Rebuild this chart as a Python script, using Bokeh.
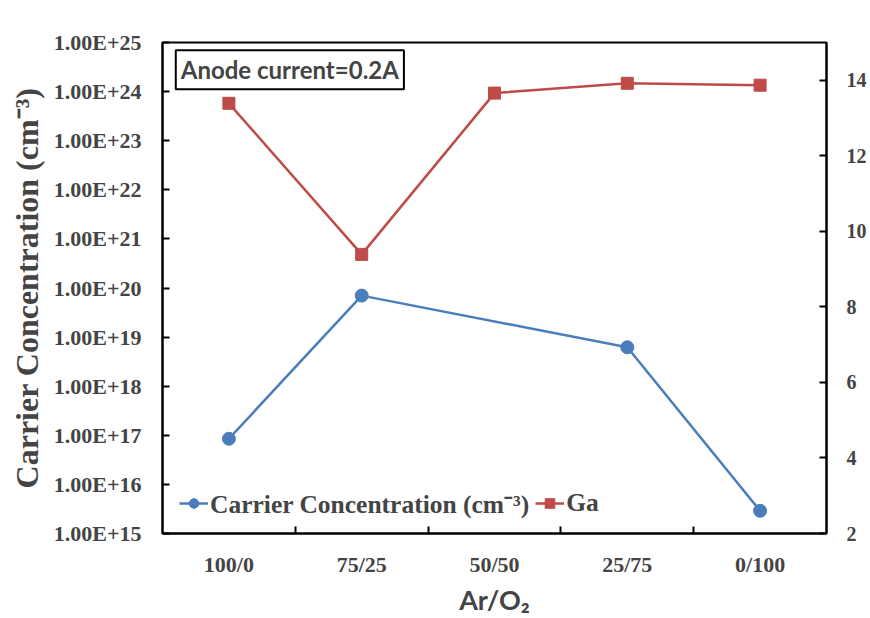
from bokeh.plotting import figure
from bokeh.models import (LinearAxis, LinearScale, Range1d, FixedTicker, CustomJSTickFormatter,
                          Label, Legend, LegendItem)
from bokeh.embed import file_html
from bokeh.resources import INLINE

# Ar/O2 gas ratios on the x axis
ratios = ["100/0", "75/25", "50/50", "25/75", "0/100"]

# Carrier concentration (cm^-3), no value measured at 50/50
carrier_ratios = ["100/0", "75/25", "25/75", "0/100"]
carrier_conc = [8.5e16, 7.0e19, 6.2e18, 2.9e15]

# Ga content (right axis)
ga_ratios = ["100/0", "75/25", "50/50", "25/75", "0/100"]
ga_values = [13.39, 9.39, 13.66, 13.92, 13.87]

left_ticks = [10 ** k for k in range(15, 26)]
right_ticks = [2, 4, 6, 8, 10, 12, 14]

pos = {r: i + 0.5 for i, r in enumerate(ratios)}

SERIF = "Liberation Serif"
SANS = "Lato"
BLUE = "#4A7EBB"
RED = "#BE4B48"

p = figure(width=870, height=618, y_axis_type="log",
           x_range=Range1d(0, len(ratios)), y_range=Range1d(1e15, 1e25),
           output_backend="svg", toolbar_location=None,
           min_border_left=162, min_border_right=44,
           min_border_top=42, min_border_bottom=85)
p.extra_y_ranges = {"ga": Range1d(2, 15)}
p.extra_y_scales = {"ga": LinearScale()}
p.grid.grid_line_color = None
p.outline_line_color = "black"
p.outline_line_width = 2
p.background_fill_color = "white"

# carrier concentration series
cx = [pos[r] for r in carrier_ratios]
bl = p.line(cx, carrier_conc, line_color=BLUE, line_width=2.5)
bp = p.scatter(cx, carrier_conc, marker="circle", size=13, fill_color=BLUE, line_color=BLUE)

# Ga series on the right axis
gx = [pos[r] for r in ga_ratios]
rl = p.line(gx, ga_values, line_color=RED, line_width=2.5, y_range_name="ga")
rp = p.scatter(gx, ga_values, marker="square", size=12, fill_color=RED, line_color=RED,
               y_range_name="ga")

# x axis: labels at category centres, tick marks at category boundaries
xa = p.xaxis[0]
xa.ticker = FixedTicker(ticks=[i + 0.5 for i in range(len(ratios))],
                        minor_ticks=list(range(1, len(ratios))))
xa.formatter = CustomJSTickFormatter(args=dict(labels=ratios),
                                     code="return labels[Math.floor(tick)];")
xa.major_tick_line_color = None
xa.minor_tick_in = 7
xa.minor_tick_out = 0
xa.minor_tick_line_width = 2
xa.axis_line_width = 2
xa.major_label_text_font = SERIF
xa.major_label_text_font_style = "bold"
xa.major_label_text_font_size = "22px"
xa.major_label_standoff = 12
xa.axis_label = "Ar/O₂"
xa.axis_label_text_font = SANS
xa.axis_label_text_font_style = "bold"
xa.axis_label_text_font_size = "27px"
xa.axis_label_standoff = 3

# left log axis
ya = p.yaxis[0]
ya.ticker = FixedTicker(ticks=left_ticks, minor_ticks=[])
ya.formatter = CustomJSTickFormatter(code="return tick.toExponential(2).toUpperCase();")
ya.major_tick_in = 7
ya.major_tick_out = 0
ya.major_tick_line_width = 2
ya.minor_tick_in = 0
ya.minor_tick_out = 0
ya.axis_line_width = 2
ya.major_label_text_font = SERIF
ya.major_label_text_font_style = "bold"
ya.major_label_text_font_size = "22px"
ya.major_label_standoff = 21
ya.axis_label = "Carrier Concentration (cm⁻³)"
ya.axis_label_text_font = SERIF
ya.axis_label_text_font_style = "bold"
ya.axis_label_text_font_size = "32px"
ya.axis_label_standoff = 6

# right linear axis
ra = LinearAxis(y_range_name="ga", ticker=FixedTicker(ticks=right_ticks, minor_ticks=[]))
ra.major_tick_in = 7
ra.major_tick_out = 0
ra.major_tick_line_width = 2
ra.minor_tick_in = 0
ra.minor_tick_out = 0
ra.axis_line_width = 2
ra.major_label_text_font = SERIF
ra.major_label_text_font_style = "bold"
ra.major_label_text_font_size = "20px"
ra.major_label_standoff = 20
p.add_layout(ra, "right")

# annotation box
note = Label(x=0.1, y=10 ** 24.84, text="Anode current=0.2A",
             text_font=SANS, text_font_style="bold", text_font_size="24px",
             anchor="top_left", padding=5,
             border_line_color="black", border_line_width=2,
             background_fill_color="white")
p.add_layout(note)

legend = Legend(items=[LegendItem(label="Carrier Concentration (cm⁻³)", renderers=[bl, bp]),
                       LegendItem(label="Ga", renderers=[rl, rp])],
                orientation="horizontal", location=(17, 13),
                border_line_color=None, background_fill_alpha=0,
                label_text_font=SERIF, label_text_font_style="bold",
                label_text_font_size="25.5px", glyph_width=29, glyph_height=24,
                label_standoff=2, spacing=6, padding=4)
p.add_layout(legend)

open("out.html", "w").write(file_html(p, INLINE))
